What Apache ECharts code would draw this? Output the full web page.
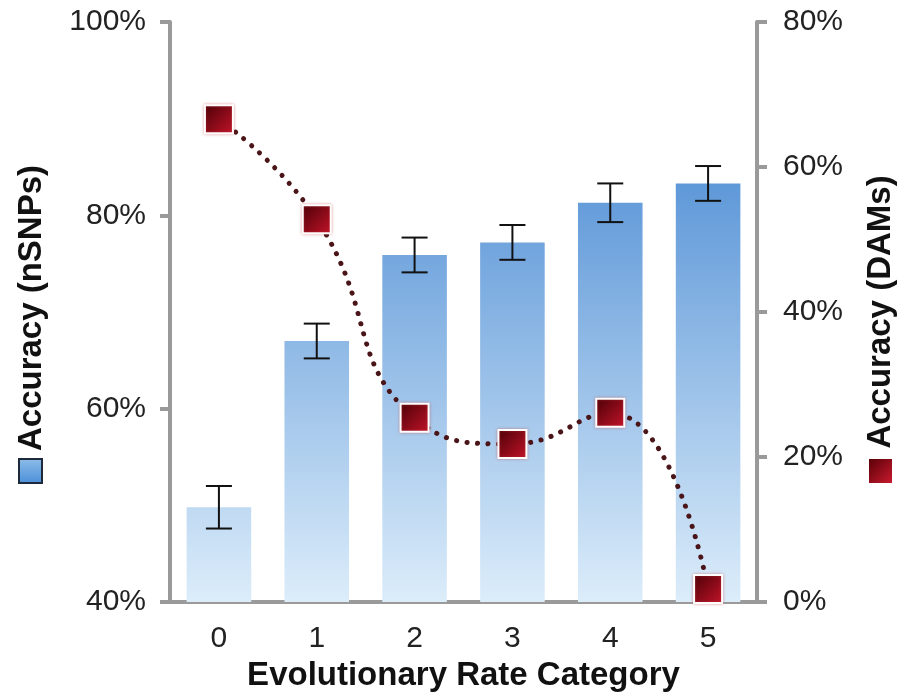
<!DOCTYPE html>
<html><head><meta charset="utf-8">
<script src="https://cdn.jsdelivr.net/npm/echarts@6/dist/echarts.min.js"></script>
<style>html,body{margin:0;padding:0;background:#fff}#c{width:910px;height:697px}</style>
</head><body><div id="c"></div>
<script>
var categories = ['0','1','2','3','4','5'];
var nsnpAccuracy = [49.8, 67.0, 75.9, 77.2, 81.3, 83.3];
var nsnpError = [2.2, 1.8, 1.8, 1.8, 2.0, 1.8];
var damAccuracy = [66.6, 52.8, 25.4, 21.8, 26.1, 1.8];
var leftTicks = [40, 100, 20];
var rightTicks = [0, 80, 20];

var chart = echarts.init(document.getElementById('c'));
var FONT = 'Liberation Sans, Arial, sans-serif';
var errData = categories.map(function(c,i){return [i, nsnpAccuracy[i]-nsnpError[i], nsnpAccuracy[i]+nsnpError[i]];});
chart.setOption({
  animation:false,
  grid:{left:170,right:153,top:22,bottom:95,containLabel:false,outerBoundsMode:'none'},
  xAxis:{type:'category',data:categories,
    axisLine:{lineStyle:{color:'#9a9a9a',width:4}},
    axisTick:{show:false},
    axisLabel:{fontSize:30,color:'#222',margin:22,fontFamily:FONT},
    name:'Evolutionary Rate Category',nameLocation:'middle',nameGap:57,
    nameTextStyle:{fontSize:33,fontWeight:'bold',color:'#111',fontFamily:FONT}},
  yAxis:[
    {type:'value',min:leftTicks[0],max:leftTicks[1],interval:leftTicks[2],
     axisLine:{show:true,lineStyle:{color:'#9a9a9a',width:4}},
     axisTick:{show:true,length:10,lineStyle:{color:'#9a9a9a',width:4}},
     splitLine:{show:false},
     axisLabel:{fontSize:30,color:'#222',margin:24,fontFamily:FONT,formatter:'{value}%'}},
    {type:'value',min:rightTicks[0],max:rightTicks[1],interval:rightTicks[2],position:'right',
     axisLine:{show:true,lineStyle:{color:'#9a9a9a',width:4}},
     axisTick:{show:true,length:10,lineStyle:{color:'#9a9a9a',width:4}},
     splitLine:{show:false},
     axisLabel:{fontSize:30,color:'#222',margin:26,fontFamily:FONT,formatter:'{value}%'}}
  ],
  series:[
    {type:'bar',data:nsnpAccuracy,barWidth:'66%',yAxisIndex:0,
     itemStyle:{color:new echarts.graphic.LinearGradient(0,22,0,602,[
        {offset:0,color:'#2f78cc'},{offset:1,color:'#dcedfa'}],true)},z:1},
    {type:'custom',yAxisIndex:0,data:errData,z:3,
     renderItem:function(params,api){
       var x=api.value(0);
       var lo=api.coord([x,api.value(1)]);
       var hi=api.coord([x,api.value(2)]);
       var hw=13;
       var st={stroke:'#111',lineWidth:2};
       return {type:'group',children:[
         {type:'line',shape:{x1:lo[0],y1:lo[1],x2:hi[0],y2:hi[1]},style:st},
         {type:'line',shape:{x1:lo[0]-hw,y1:lo[1],x2:lo[0]+hw,y2:lo[1]},style:st},
         {type:'line',shape:{x1:hi[0]-hw,y1:hi[1],x2:hi[0]+hw,y2:hi[1]},style:st}
       ]};
     }},
    {type:'line',yAxisIndex:1,data:damAccuracy,smooth:0.5,z:4,
     symbol:'rect',symbolSize:28,
     lineStyle:{color:'#4a1518',width:5,type:[0.1,10.5],cap:'round'},
     itemStyle:{color:new echarts.graphic.LinearGradient(0,0,1,1,[
        {offset:0,color:'#4a0006'},{offset:1,color:'#c4142a'}]),
        borderColor:'#fff',borderWidth:2,shadowColor:'rgba(200,60,60,0.5)',shadowBlur:3}}
  ],
  graphic:[
    {type:'text',rotation:Math.PI/2,
     style:{text:'Accuracy (nSNPs)',font:'bold 33px '+FONT,fill:'#111',textAlign:'center',textVerticalAlign:'middle'},
     position:[32,308]},
    {type:'rect',shape:{x:19,y:459,width:23,height:24},
     style:{fill:new echarts.graphic.LinearGradient(0,0,0,1,[{offset:0,color:'#8ebde9'},{offset:1,color:'#4a8fd8'}]),stroke:'#1e2a3a',lineWidth:2}},
    {type:'text',rotation:Math.PI/2,
     style:{text:'Accuracy (DAMs)',font:'bold 33px '+FONT,fill:'#111',textAlign:'center',textVerticalAlign:'middle'},
     position:[881,312]},
    {type:'rect',shape:{x:869,y:459,width:23,height:24},
     style:{fill:new echarts.graphic.LinearGradient(0,0,1,1,[{offset:0,color:'#5a0008'},{offset:1,color:'#c81a2e'}])}}
  ]
});
</script></body></html>
